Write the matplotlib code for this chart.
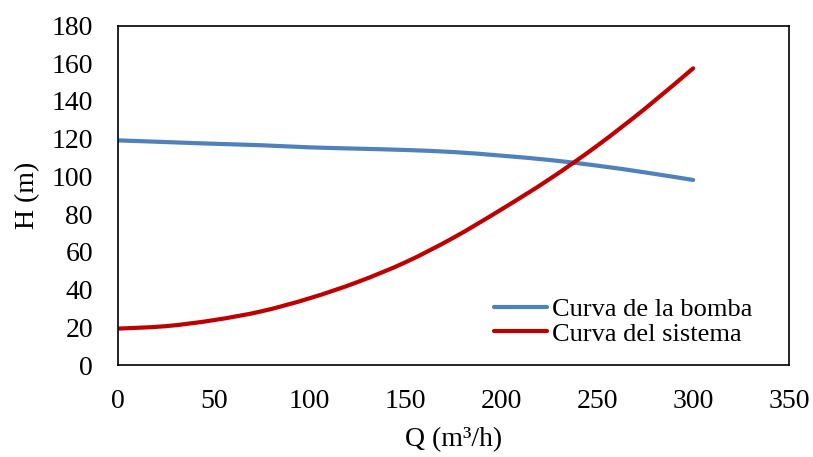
import matplotlib
matplotlib.use("Agg")
import matplotlib.pyplot as plt
from matplotlib.path import Path
from matplotlib.patches import PathPatch
from matplotlib.lines import Line2D
import numpy as np

# values
caudal = [0, 25, 50, 75, 100, 125, 150, 175, 200, 225, 250, 275, 300]
h_bomba = [119.1, 118.2, 117.3, 116.5, 115.4, 114.7, 114.0, 112.9, 111.0, 108.7, 105.7, 102.1, 98.1]
h_sistema = [19.3, 20.6, 23.8, 28.5, 35.4, 44.0, 54.5, 67.5, 82.5, 98.5, 116.3, 136.0, 157.3]
etiquetas = ["Curva de la bomba", "Curva del sistema"]
colores = ['#4F81BD', '#C00000']

plt.rcParams['font.family'] = ['Liberation Serif', 'DejaVu Serif']


def smooth_path(x, y):
    # Excel-style smoothed line: Catmull-Rom through the points, drawn as cubic Beziers
    p = np.column_stack([x, y]).astype(float)
    verts = [p[0]]
    codes = [Path.MOVETO]
    n = len(p)
    for i in range(n - 1):
        p0 = p[i - 1] if i > 0 else p[i]
        p3 = p[i + 2] if i + 2 < n else p[i + 1]
        c1 = p[i] + (p[i + 1] - p0) / 6.0
        c2 = p[i + 1] - (p3 - p[i]) / 6.0
        verts += [c1, c2, p[i + 1]]
        codes += [Path.CURVE4] * 3
    return Path(verts, codes)


fig = plt.figure(figsize=(8.13, 4.57), dpi=100)
ax = fig.add_axes([0.1451, 0.2013, 0.8254, 0.7429])

series = [h_bomba, h_sistema]
handles = []
for vals, col, lab in zip(series, colores, etiquetas):
    patch = PathPatch(smooth_path(caudal, vals), facecolor='none', edgecolor=col,
                      lw=3.0, capstyle='round')
    ax.add_patch(patch)
    handles.append(Line2D([], [], color=col, lw=3.0, solid_capstyle='round', label=lab))

ax.set_xlim(0, 350)
ax.set_ylim(0, 180)
ax.set_xticks(np.arange(0, 351, 50))
ax.set_yticks(np.arange(0, 181, 20))
ax.tick_params(axis='both', length=0, labelsize=20)
ax.tick_params(axis='x', pad=17)
ax.tick_params(axis='y', pad=18)

for s in ax.spines.values():
    s.set_color('black')
    s.set_linewidth(1.2)

ax.set_xlabel("Q (m³/h)", fontsize=20, labelpad=10)
ax.set_ylabel("H (m)", fontsize=20, labelpad=8)

ax.legend(handles=handles, loc='center left', bbox_to_anchor=(0.560, 0.128), frameon=False,
          fontsize=19, handlelength=2.0, handletextpad=0.2, labelspacing=0.05,
          borderpad=0, borderaxespad=0)

fig.savefig("out.png", dpi=100)
